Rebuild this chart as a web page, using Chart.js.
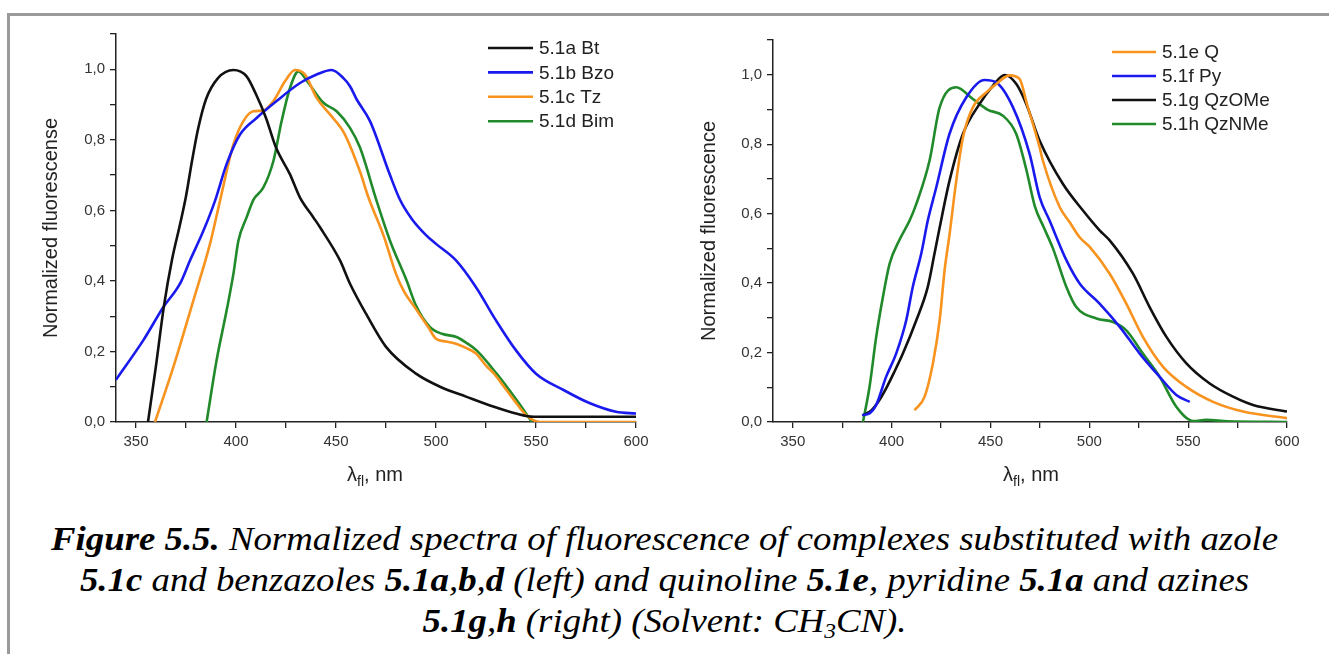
<!DOCTYPE html>
<html>
<head>
<meta charset="utf-8">
<script src="https://cdn.jsdelivr.net/npm/chart.js@4.4.1/dist/chart.umd.min.js"></script>
<style>
body{margin:0;background:#fff;width:1329px;height:654px;overflow:hidden;position:relative;font-family:"Liberation Sans",Arial,sans-serif;}
#frame{position:absolute;left:7px;top:13px;right:0;bottom:0;border-top:3px solid #9a9a9a;border-left:3px solid #9a9a9a;}
#cvLeft{position:absolute;left:0;top:0;}
#cvRight{position:absolute;left:660px;top:0;}
.xlab{position:absolute;top:463px;font-size:20px;color:#222;transform:translateX(-50%);white-space:nowrap;}
.xlab sub{font-size:14px;vertical-align:-5px;}
#caption{position:absolute;left:0;top:519px;width:1329px;text-align:center;font-family:"Liberation Serif","Times New Roman",serif;font-style:italic;font-size:33px;line-height:41px;color:#000;transform:scaleX(1.115);transform-origin:664px 0;}
#caption sub{font-size:21px;vertical-align:-6px;line-height:0;}
</style>
</head>
<body>
<div id="frame"></div>
<canvas id="cvLeft" width="660" height="490"></canvas>
<canvas id="cvRight" width="669" height="490"></canvas>
<div class="xlab" style="left:375px">&lambda;<sub>fl</sub>, nm</div>
<div class="xlab" style="left:1031px">&lambda;<sub>fl</sub>, nm</div>
<div id="caption"><b>Figure 5.5.</b> Normalized spectra of fluorescence of complexes substituted with azole<br><b>5.1c</b> and benzazoles <b>5.1a</b>,<b>b</b>,<b>d</b> (left) and quinoline <b>5.1e</b>, pyridine <b>5.1a</b> and azines<br><b>5.1g</b>,<b>h</b> (right) (Solvent: CH<sub>3</sub>CN).</div>
<script>
// tick labels
var xTickLabels = ['350','400','450','500','550','600'];
var yTickLabels = ['0,0','0,2','0,4','0,6','0,8','1,0'];

// left panel: azole / benzazoles
var btX  = [356,360,364,368,372,375,378,381,385,391,398.7,405.3,410,415,420,427,432,438.7,442,452,457,465,475,490,502,515,529,540,549,560,580,600];
var btY  = [0,0.16,0.33,0.46,0.56,0.64,0.74,0.83,0.915,0.975,0.998,0.98,0.929,0.862,0.778,0.702,0.636,0.58,0.552,0.458,0.392,0.307,0.213,0.137,0.1,0.072,0.043,0.024,0.015,0.015,0.015,0.015];
var bzoX = [340,353.7,363.7,372,377,383.7,389.5,395.3,402,410.3,420.3,432,440.3,447.8,453.7,457,460.3,467,477,482,488,495,500,510,520,530,540,550,564,577,590,600];
var bzoY = [0.12,0.232,0.326,0.392,0.458,0.542,0.627,0.731,0.815,0.862,0.91,0.961,0.985,0.998,0.975,0.952,0.915,0.853,0.7,0.63,0.575,0.53,0.505,0.458,0.382,0.288,0.203,0.137,0.09,0.053,0.029,0.024];
var tzX  = [359.5,368.7,378.7,387,392,398.7,403.7,408.7,413.7,418.7,424.5,429.5,434.5,440.3,447,454,462,466,474,480,484,490,496,500,505,510,515,520,525,529,534,539,545,552,575,600];
var tzY  = [0,0.156,0.345,0.505,0.627,0.787,0.853,0.881,0.883,0.91,0.966,0.998,0.985,0.919,0.872,0.82,0.71,0.64,0.525,0.42,0.37,0.32,0.27,0.236,0.228,0.222,0.21,0.194,0.16,0.137,0.1,0.062,0.02,0,0,0];
var bimX = [385.3,390.3,395.3,398.7,401.2,405.3,408.7,413.7,418.7,422.8,427,431.2,436.2,443.7,450.3,457,462,470.3,477,485.3,490,497,503,510.3,515,520.3,530.3,540.3,548];
var bimY = [0,0.175,0.316,0.42,0.514,0.58,0.63,0.665,0.74,0.853,0.947,0.994,0.961,0.905,0.881,0.834,0.778,0.627,0.514,0.401,0.33,0.269,0.25,0.241,0.225,0.203,0.137,0.062,0];

// right panel: quinoline / pyridine / azines
var qX   = [411.6,416.7,420.9,424.3,426.8,429.3,432.7,436.1,441.1,447.9,452.9,459.7,464.7,468.5,474.9,476.5,485,490.1,495.1,500.2,510.3,518.7,527.1,537.3,549.1,562.6,577.8,600];
var qY   = [0.034,0.073,0.169,0.293,0.437,0.54,0.695,0.82,0.906,0.949,0.973,0.998,0.988,0.915,0.79,0.753,0.619,0.575,0.532,0.504,0.427,0.341,0.245,0.159,0.101,0.058,0.03,0.011];
var pyX  = [385,388.8,392.2,397.2,402.3,407.4,410.7,415,418.3,422.6,429.3,437.8,447,452.9,461.4,469.8,474.9,479.9,488.4,495.1,505.2,515.4,525.5,535.6,544,550.8];
var pyY  = [0.02,0.025,0.049,0.13,0.197,0.293,0.389,0.485,0.58,0.676,0.83,0.935,0.985,0.978,0.906,0.772,0.647,0.58,0.466,0.399,0.341,0.274,0.197,0.13,0.078,0.058];
var ozX  = [386,390,394,397.5,401,405.7,412.5,418.3,421.7,424.3,429.3,436.1,444.5,451.2,457.2,463.1,468.1,474.9,486.6,496.8,505.2,510.3,522.1,530.5,539,549.1,560.9,572.7,582.8,600];
var ozY  = [0.02,0.035,0.065,0.1,0.14,0.197,0.293,0.389,0.485,0.56,0.695,0.83,0.916,0.968,0.999,0.973,0.916,0.81,0.686,0.609,0.552,0.523,0.427,0.331,0.245,0.169,0.111,0.073,0.049,0.03];
var nzX  = [385.5,388.8,392.2,395.6,399,404,409.1,412.5,419.2,424.3,432.7,441.1,448.7,456.3,463,468,472.5,477,481.6,488.4,493.4,503.6,512,518.7,527.1,535.6,544,552.5,559.2,570,600];
var nzY  = [0,0.1,0.245,0.36,0.456,0.525,0.58,0.628,0.753,0.906,0.964,0.93,0.899,0.882,0.83,0.73,0.62,0.56,0.5,0.389,0.331,0.298,0.288,0.264,0.197,0.13,0.044,0.003,0.006,0.002,0];

var BLACK = '#111111', BLUE = '#1a1aee', ORANGE = '#f7931e', GREEN = '#218a2a';

function pts(xs, ys) {
	var out = [];
	for (var i in xs) out.push({x: xs[i], y: ys[i]});
	return out;
}
function series(label, xs, ys, color) {
	return {label: label, data: pts(xs, ys), borderColor: color, backgroundColor: color,
		borderWidth: 2.6, pointRadius: 0, showLine: true, fill: false, cubicInterpolationMode: 'monotone'};
}

var lineLegend = {
	id: 'lineLegend',
	afterDraw: function(chart, args, opts) {
		var ctx = chart.ctx;
		ctx.save();
		ctx.font = opts.font;
		ctx.textBaseline = 'middle';
		chart.data.datasets.forEach(function(ds, i) {
			var y = opts.y + i * opts.gap;
			ctx.strokeStyle = ds.borderColor;
			ctx.lineWidth = ds.borderWidth;
			ctx.beginPath();
			ctx.moveTo(opts.x, y);
			ctx.lineTo(opts.x + opts.len, y);
			ctx.stroke();
			ctx.fillStyle = '#222';
			ctx.fillText(ds.label, opts.x + opts.len + 6, y + 1);
		});
		ctx.restore();
	}
};

function makeConfig(datasets, yTitle, pad, yWidth, titlePad, legendPos) {
	return {
		type: 'scatter',
		data: {datasets: datasets},
		plugins: [lineLegend],
		options: {
			responsive: false,
			animation: false,
			devicePixelRatio: 1,
			layout: {padding: pad},
			plugins: {
				legend: {display: false},
				tooltip: {enabled: false},
				lineLegend: legendPos
			},
			scales: {
				x: {
					type: 'linear', min: 340, max: 600,
					border: {color: '#222', width: 1.5},
					grid: {drawOnChartArea: false, drawTicks: true, tickLength: 6, color: '#222', lineWidth: 1.3},
					ticks: {stepSize: 25, includeBounds: false, autoSkip: false, maxRotation: 0, padding: 5,
						color: '#333', font: {size: 15, family: '"Liberation Sans", Arial'},
						callback: function(v, i) { return i % 2 === 0 ? xTickLabels[i / 2] : ''; }},
					afterFit: function(s) { s.height = 68; }
				},
				y: {
					min: 0, max: 1.1,
					border: {color: '#222', width: 1.5},
					grid: {drawOnChartArea: false, drawTicks: true, tickLength: 6, color: '#222', lineWidth: 1.3},
					ticks: {stepSize: 0.1, autoSkip: false, padding: 5,
						color: '#333', font: {size: 15, family: '"Liberation Sans", Arial'},
						callback: function(v, i) { return i % 2 === 0 ? yTickLabels[i / 2] : ''; }},
					title: {display: true, text: yTitle, color: '#222', padding: {top: titlePad, bottom: 0},
						font: {size: 20, family: '"Liberation Sans", Arial'}},
					afterFit: function(s) { s.width = yWidth; }
				}
			}
		}
	};
}

var leftSets = [
	series('5.1a Bt', btX, btY, BLACK),
	series('5.1b Bzo', bzoX, bzoY, BLUE),
	series('5.1c Tz', tzX, tzY, ORANGE),
	series('5.1d Bim', bimX, bimY, GREEN)
];
var rightSets = [
	series('5.1e Q', qX, qY, ORANGE),
	series('5.1f Py', pyX, pyY, BLUE),
	series('5.1g QzOMe', ozX, ozY, BLACK),
	series('5.1h QzNMe', nzX, nzY, GREEN)
];

var fontLeg = '19px "Liberation Sans", Arial';
new Chart(document.getElementById('cvLeft').getContext('2d'),
	makeConfig(leftSets, 'Normalized fluorescense', {top: 34, right: 24, left: 0, bottom: 0}, 116, 39,
		{x: 488, y: 48, gap: 24.4, len: 45, font: fontLeg}));
new Chart(document.getElementById('cvRight').getContext('2d'),
	makeConfig(rightSets, 'Normalized fluorescence', {top: 40, right: 42, left: 0, bottom: 0}, 113, 37,
		{x: 452, y: 52, gap: 24, len: 44, font: fontLeg}));
</script>
</body>
</html>
